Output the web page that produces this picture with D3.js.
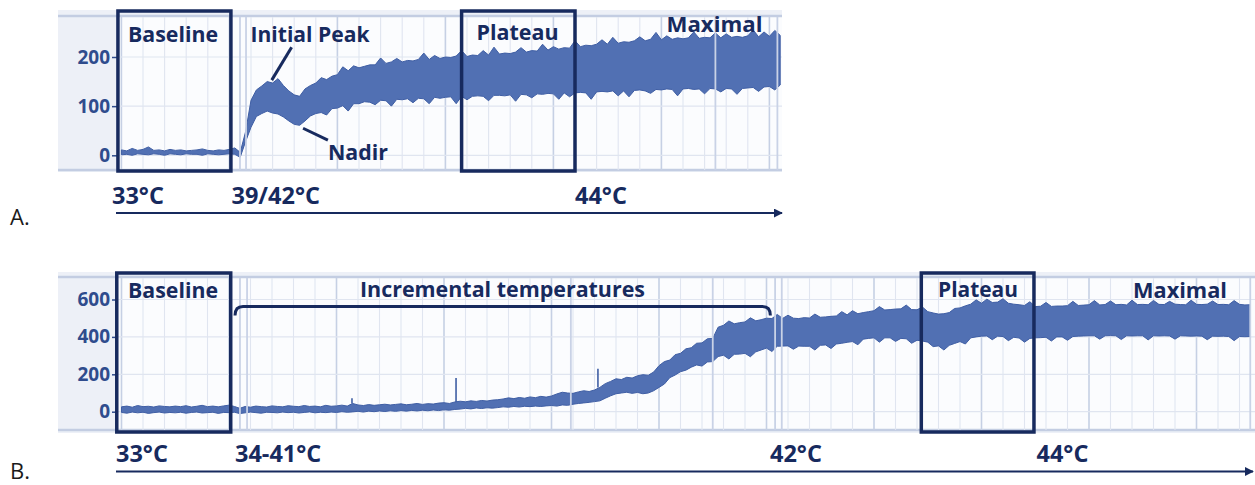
<!DOCTYPE html>
<html>
<head>
<meta charset="utf-8">
<script src="https://cdn.jsdelivr.net/npm/d3@7"></script>
<style>
  body { margin: 0; background: #ffffff; }
  svg { display: block; }
</style>
</head>
<body>
<svg id="fig" width="1255" height="485"></svg>
<script>
// ---- Recorded traces: upper / lower envelope of the signal, one sample every 0.25 grid units ----
const sampleStep = 0.25;

const upperA = [
  11, 9, 14, 10, 12, 17, 10, 11, 9, 12,
  10, 11, 9, 10, 11, 13, 10, 9, 11, 10,
  12, 15, 6, 48, 112, 133, 141, 150, 147, 156,
  142, 131, 123, 120, 135, 142, 147, 158, 154, 161,
  164, 180, 172, 182, 178, 181, 184, 184, 198, 187,
  190, 197, 190, 193, 192, 195, 208, 195, 203, 197,
  200, 199, 202, 213, 201, 204, 203, 213, 204, 220,
  206, 208, 207, 210, 219, 210, 213, 212, 226, 214,
  221, 216, 219, 218, 233, 221, 224, 223, 226, 235,
  226, 240, 228, 231, 230, 233, 241, 233, 236, 250,
  235, 243, 236, 239, 237, 239, 251, 238, 240, 239,
  249, 239, 247, 240, 242, 240, 243, 255, 241, 251,
  242, 254, 244
];
const lowerA = [
  1, 2, 0, 3, 2, 1, 3, 2, 0, 3,
  2, 1, 3, 2, 2, 0, 3, 2, 1, 2,
  3, 2, -4, 28, 57, 79, 85, 90, 86, 84,
  78, 70, 63, 61, 70, 80, 85, 87, 82, 95,
  96, 101, 90, 105, 105, 109, 108, 103, 112, 111,
  100, 114, 113, 115, 107, 116, 115, 105, 118, 116,
  118, 119, 105, 120, 113, 120, 121, 120, 111, 122,
  122, 121, 123, 110, 124, 123, 117, 125, 124, 126,
  125, 114, 127, 119, 127, 128, 127, 114, 129, 130,
  129, 131, 121, 131, 119, 132, 133, 131, 126, 134,
  133, 135, 134, 121, 135, 136, 134, 135, 125, 136,
  135, 129, 136, 135, 124, 136, 137, 138, 130, 139,
  140, 133, 143
];

const upperB = [
  26, 30, 24, 33, 27, 29, 25, 31, 28, 26,
  30, 27, 32, 25, 29, 34, 27, 30, 26, 31,
  35, 28, 18, 28, 24, 30, 27, 25, 31, 28,
  26, 32, 29, 27, 33, 28, 30, 26, 34, 29,
  31, 35, 30, 44, 36, 33, 38, 34, 37, 40,
  36, 39, 42, 37, 40, 44, 39, 43, 41, 46,
  48, 44, 52, 56, 53, 58, 55, 60, 57, 62,
  64, 68, 74, 70, 76, 72, 79, 75, 82, 78,
  84, 95, 104, 100, 98, 106, 112, 108, 116, 130,
  150, 162, 176, 172, 184, 180, 192, 198, 195, 212,
  246, 268, 276, 305, 312, 336, 342, 366, 368, 390,
  392, 452, 462, 485, 470, 476, 480, 502, 486, 492,
  500, 498, 520, 499, 516, 500, 498, 503, 501, 522,
  505, 507, 510, 512, 535, 518, 540, 524, 530, 535,
  540, 562, 544, 546, 549, 550, 570, 546, 545, 560,
  535, 528, 522, 524, 530, 552, 555, 566, 575, 598,
  580, 602, 584, 586, 604, 580, 575, 572, 568, 588,
  562, 564, 584, 563, 565, 565, 567, 590, 568, 570,
  572, 594, 571, 573, 592, 572, 574, 571, 596, 573,
  574, 572, 595, 574, 573, 590, 575, 573, 572, 596,
  574, 573, 575, 592, 573, 574, 572, 594, 574, 571,
  572
];
const lowerB = [
  -4, -8, -2, -6, -3, -9, -5, -2, -7, -4,
  -6, -3, -8, -4, -2, -7, -5, -3, -9, -4,
  -5, -3, -10, -6, -2, -5, -8, -3, -4, -6,
  -2, -5, -3, -7, -4, -1, -6, -3, -5, -2,
  -4, 0, -3, -1, 2, -2, 3, 0, 4, 1,
  5, 2, 6, 3, 7, 4, 8, 5, 9, 6,
  10, 8, 12, 14, 18, 15, 20, 17, 21, 19,
  22, 26, 24, 28, 25, 29, 27, 30, 28, 31,
  33, 30, 36, 34, 40, 44, 47, 50, 54, 58,
  72, 85, 96, 100, 104, 98, 103, 96, 100, 112,
  130, 148, 182, 196, 214, 222, 238, 250, 244, 266,
  268, 295, 302, 282, 307, 308, 312, 294, 320, 330,
  340, 322, 350, 351, 352, 334, 351, 350, 350, 330,
  355, 357, 338, 362, 366, 371, 375, 358, 388, 392,
  395, 372, 395, 395, 376, 392, 390, 366, 382, 378,
  372, 348, 352, 330, 355, 365, 375, 362, 395, 400,
  404, 405, 385, 404, 402, 380, 398, 394, 372, 392,
  395, 396, 398, 378, 400, 400, 382, 402, 404, 405,
  406, 406, 388, 406, 407, 406, 386, 406, 405, 406,
  406, 384, 406, 405, 406, 405, 388, 406, 405, 404,
  405, 404, 385, 404, 403, 404, 402, 380, 402, 401,
  402
];

// Short artefact spikes in trace B: time and peak value
const spikeTimesB = [10.72, 15.56, 22.16];
const spikeValuesB = [72, 180, 230];

// Times of the protocol step markers (vertical lines)
const eventsA = [5.49, 5.77, 27.5, 30.37];
const eventsB = [5.51, 5.84, 20.9, 27.5, 30.4, 30.71, 52.5];

// Axis ticks
const yTicksA = [0, 100, 200];
const yTicksB = [0, 200, 400, 600];

// Temperature labels under each trace
const tempLabelsA = ["33°C", "39/42°C", "44°C"];
const tempLabelsB = ["33°C", "34-41°C", "42°C", "44°C"];

// Phase labels
const phaseLabelsA = ["Baseline", "Initial Peak", "Nadir", "Plateau", "Maximal"];
const phaseLabelsB = ["Baseline", "Incremental temperatures", "Plateau", "Maximal"];

// ---- Layout ----
const navy = "#172a5e";
const tickBlue = "#2f4c8d";
const bandFill = "#5170b3";
const bandStroke = "#3f5ea4";
const svg = d3.select("#fig");
const font = "'Open Sans', 'DejaVu Sans', sans-serif";

const panels = [
  {
    key: "A",
    upper: upperA, lower: lowerA,
    outerLeft: 58, plotLeft: 117, plotRight: 782,
    top: 10, plotTop: 17, plotBottom: 170, bottom: 172,
    x: d3.scaleLinear().domain([0, 30]).range([121.4, 769.4]),
    y: d3.scaleLinear().domain([0, 200]).range([155.3, 57]),
    yTicks: yTicksA,
    events: eventsA,
    gridMax: 30,
    boxes: [[-0.16, 5.07], [15.75, 21.0]],
    boxTop: 11, boxBottom: 171,
    phases: phaseLabelsA,
    phasePos: [[128, 42, 90], [250.5, 41.7, 119], [328, 160, 60], [476.5, 40, 82], [666.5, 31.7, 96]],
    temps: tempLabelsA,
    tempX: [112, 231.5, 575], tempY: 204,
    arrow: [116, 782, 213],
    letterY: 225
  },
  {
    key: "B",
    upper: upperB, lower: lowerB,
    outerLeft: 58, plotLeft: 117, plotRight: 1255,
    top: 272, plotTop: 278, plotBottom: 430, bottom: 433,
    x: d3.scaleLinear().domain([0, 50]).range([121.5, 1196.5]),
    y: d3.scaleLinear().domain([0, 600]).range([411.7, 299.5]),
    yTicks: yTicksB,
    events: eventsB,
    gridMax: 52,
    boxes: [[-0.22, 5.08], [37.2, 42.44]],
    boxTop: 273, boxBottom: 432,
    phases: phaseLabelsB,
    phasePos: [[128, 298, 90], [360, 296.7, 285], [938, 296.7, 80], [1133, 298, 94]],
    temps: tempLabelsB,
    tempX: [116, 235, 770, 1036.5], tempY: 461.7,
    arrow: [116, 1253, 471.5],
    letterY: 479
  }
];

const defs = svg.append("defs");
defs.append("marker")
  .attr("id", "arrowHead")
  .attr("viewBox", "0 0 10 10")
  .attr("refX", 9).attr("refY", 5)
  .attr("markerWidth", 4.5).attr("markerHeight", 4.5)
  .attr("orient", "auto")
  .append("path").attr("d", "M0,0 L10,5 L0,10 Z").attr("fill", navy);

panels.forEach(p => {
  const g = svg.append("g");
  const x = p.x, y = p.y;

  defs.append("clipPath").attr("id", "clip" + p.key)
    .append("rect")
    .attr("x", p.plotLeft).attr("y", p.plotTop)
    .attr("width", p.plotRight - p.plotLeft).attr("height", p.plotBottom - p.plotTop);

  // panel background: axis strip, header strip, plotting area
  g.append("rect")
    .attr("x", p.outerLeft).attr("y", p.top)
    .attr("width", p.plotRight - p.outerLeft).attr("height", p.bottom - p.top)
    .attr("fill", "#edf0f7");
  g.append("rect")
    .attr("x", p.plotLeft).attr("y", p.plotTop)
    .attr("width", p.plotRight - p.plotLeft).attr("height", p.plotBottom - p.plotTop)
    .attr("fill", "#fbfcfe");
  g.append("line")
    .attr("x1", p.outerLeft).attr("x2", p.plotRight)
    .attr("y1", p.plotTop - 1).attr("y2", p.plotTop - 1)
    .attr("stroke", "#c3cde2").attr("stroke-width", 2.5);
  g.append("line")
    .attr("x1", p.outerLeft).attr("x2", p.plotRight)
    .attr("y1", p.plotBottom).attr("y2", p.plotBottom)
    .attr("stroke", "#c3cde2").attr("stroke-width", 2.5);

  const plot = g.append("g").attr("clip-path", `url(#clip${p.key})`);

  // vertical grid: minor each unit, stronger every fifth
  const gridTimes = d3.range(0, p.gridMax + 1);
  plot.selectAll("line.vgrid").data(gridTimes).join("line")
    .attr("class", "vgrid")
    .attr("x1", d => x(d)).attr("x2", d => x(d))
    .attr("y1", p.plotTop).attr("y2", p.plotBottom)
    .attr("stroke", d => d % 5 === 0 ? "#c6d0e4" : "#e0e5f0")
    .attr("stroke-width", d => d % 5 === 0 ? 1.6 : 1.1);

  // horizontal grid at the y ticks
  plot.selectAll("line.hgrid").data(p.yTicks).join("line")
    .attr("class", "hgrid")
    .attr("x1", p.plotLeft).attr("x2", p.plotRight)
    .attr("y1", d => y(d)).attr("y2", d => y(d))
    .attr("stroke", "#e0e5f0").attr("stroke-width", 1.2);

  // signal envelope
  const samples = p.upper.map((u, i) => ({ t: i * sampleStep, hi: u, lo: p.lower[i] }));
  const area = d3.area()
    .x(d => x(d.t))
    .y0(d => y(d.lo))
    .y1(d => y(d.hi));
  plot.append("path")
    .datum(samples)
    .attr("d", area)
    .attr("fill", bandFill)
    .attr("stroke", bandStroke)
    .attr("stroke-width", 1)
    .attr("stroke-linejoin", "round");

  // artefact spikes
  if (p.key === "B") {
    const spikes = spikeTimesB.map((t, i) => ({ t, v: spikeValuesB[i] }));
    plot.selectAll("line.spike").data(spikes).join("line")
      .attr("class", "spike")
      .attr("x1", d => x(d.t)).attr("x2", d => x(d.t))
      .attr("y1", d => {
        const i = Math.round(d.t / sampleStep);
        return y(p.upper[i]);
      })
      .attr("y2", d => y(d.v))
      .attr("stroke", bandStroke).attr("stroke-width", 1.6);
  }

  // step markers
  plot.selectAll("line.event").data(p.events).join("line")
    .attr("class", "event")
    .attr("x1", d => x(d)).attr("x2", d => x(d))
    .attr("y1", p.plotTop).attr("y2", p.plotBottom)
    .attr("stroke", "#c9d2e6").attr("stroke-width", 1.8);

  // y axis
  const axis = d3.axisLeft(y).tickValues(p.yTicks).tickSize(5).tickPadding(2);
  const ax = g.append("g").attr("transform", `translate(${p.plotLeft},0)`).call(axis);
  ax.select(".domain").remove();
  ax.selectAll(".tick line").attr("stroke", tickBlue).attr("stroke-width", 1.5);
  ax.selectAll(".tick text")
    .attr("fill", tickBlue)
    .style("font-family", font)
    .style("font-weight", 700)
    .style("font-size", "19px");

  // phase boxes
  g.selectAll("rect.box").data(p.boxes).join("rect")
    .attr("class", "box")
    .attr("x", d => x(d[0])).attr("y", p.boxTop)
    .attr("width", d => x(d[1]) - x(d[0]))
    .attr("height", p.boxBottom - p.boxTop)
    .attr("fill", "none").attr("stroke", navy).attr("stroke-width", 3.5);

  // phase labels
  g.selectAll("text.phase").data(p.phases).join("text")
    .attr("class", "phase")
    .attr("x", (d, i) => p.phasePos[i][0])
    .attr("y", (d, i) => p.phasePos[i][1])
    .attr("textLength", (d, i) => p.phasePos[i][2])
    .attr("lengthAdjust", "spacingAndGlyphs")
    .attr("fill", navy)
    .style("font-family", font)
    .style("font-weight", 700)
    .style("font-size", "21px")
    .text(d => d);

  // temperature labels + time arrow
  g.selectAll("text.temp").data(p.temps).join("text")
    .attr("class", "temp")
    .attr("x", (d, i) => p.tempX[i])
    .attr("y", p.tempY)
    .attr("fill", navy)
    .style("font-family", font)
    .style("font-weight", 700)
    .style("font-size", "23.5px")
    .text(d => d);
  g.append("line")
    .attr("x1", p.arrow[0]).attr("x2", p.arrow[1])
    .attr("y1", p.arrow[2]).attr("y2", p.arrow[2])
    .attr("stroke", navy).attr("stroke-width", 2)
    .attr("marker-end", "url(#arrowHead)");

  g.append("text")
    .attr("x", 10).attr("y", p.letterY)
    .attr("fill", "#1a1a1a")
    .style("font-family", font)
    .style("font-size", "22px")
    .text(p.key + ".");
});

// leader lines and bracket
const pA = panels[0], pB = panels[1];
svg.append("line")
  .attr("x1", pA.x(7.88)).attr("y1", pA.y(220))
  .attr("x2", pA.x(6.96)).attr("y2", pA.y(153))
  .attr("stroke", navy).attr("stroke-width", 3);
svg.append("line")
  .attr("x1", pA.x(8.41)).attr("y1", pA.y(55))
  .attr("x2", pA.x(9.56)).attr("y2", pA.y(31))
  .attr("stroke", navy).attr("stroke-width", 3);

const bx0 = pB.x(5.28), bx1 = pB.x(30.18);
const byTop = pB.y(562), byEnd = pB.y(514);
svg.append("path")
  .attr("d", `M${bx0},${byEnd} Q${bx0},${byTop} ${bx0 + 8},${byTop} L${bx1 - 8},${byTop} Q${bx1},${byTop} ${bx1},${byEnd}`)
  .attr("fill", "none").attr("stroke", navy).attr("stroke-width", 3);
</script>
</body>
</html>
